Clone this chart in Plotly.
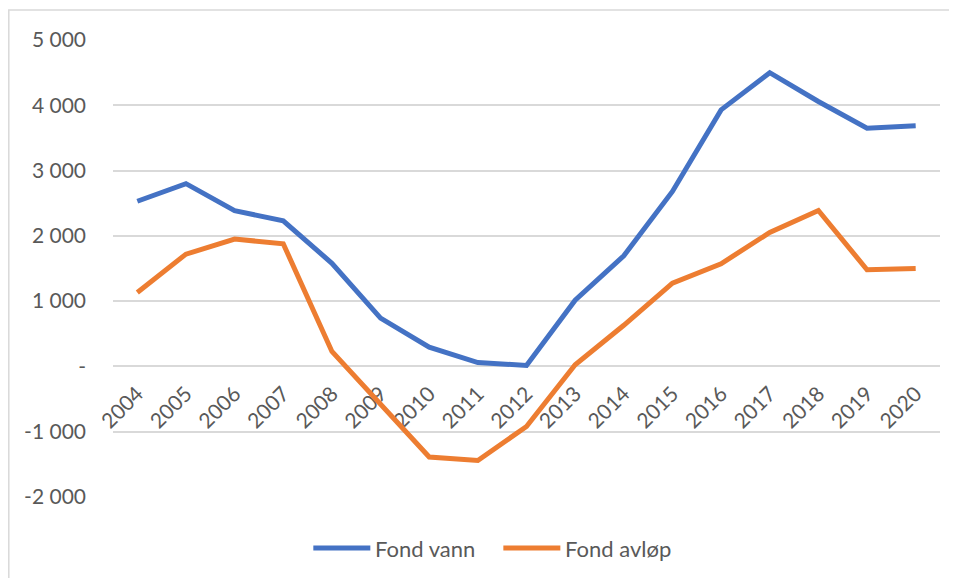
import plotly.graph_objects as go

years = [str(y) for y in range(2004, 2021)]
fond_vann = [2530, 2800, 2385, 2230, 1580, 740, 295, 60, 15, 1015, 1695, 2680, 3930, 4500, 4058, 3650, 3686]
fond_avlop = [1133, 1720, 1951, 1879, 230, -590, -1388, -1440, -919, 25, 630, 1277, 1573, 2052, 2389, 1481, 1501]
series_names = ["Fond vann", "Fond avløp"]
series_colors = ["#4472C4", "#ED7D31"]
y_tickvals = [-2000, -1000, 0, 1000, 2000, 3000, 4000, 5000]
y_ticktext = ["-2 000", "-1 000", "-", "1 000", "2 000", "3 000", "4 000", "5 000"]

OFF = 8  # page body margin
W, H = 957, 578
L, T = 112.7 - OFF, 40 - OFF
R = W - (939.6 - OFF)
B = H - (497 - OFF)
pw, ph = W - L - R, H - T - B

def px_x(px):
    return (px - OFF - L) / pw

def px_y(py):
    return (H - B - (py - OFF)) / ph

FONT = "Lato"
GRAY = "#595959"

fig = go.Figure()
for name, vals, col in zip(series_names, [fond_vann, fond_avlop], series_colors):
    fig.add_trace(go.Scatter(x=years, y=vals, mode="lines", name=name,
                             line=dict(color=col, width=5), showlegend=False))

fig.update_layout(
    width=W, height=H,
    margin=dict(l=L, r=R, t=T, b=B, pad=0),
    paper_bgcolor="white", plot_bgcolor="white",
    font=dict(family=FONT, size=21, color=GRAY),
    showlegend=False,
    xaxis=dict(type="category", range=[-0.5, 16.5], showgrid=False, zeroline=False,
               showline=False, ticks="", tickangle=-45, anchor="free", position=2/7,
               ticklabelstandoff=10,
               tickfont=dict(family=FONT, size=21, color=GRAY), layer="below traces"),
    yaxis=dict(range=[-2000, 5000], tickvals=y_tickvals, ticktext=y_ticktext,
               showgrid=True, gridcolor="#D9D9D9", gridwidth=2,
               zeroline=True, zerolinecolor="#D9D9D9", zerolinewidth=2,
               showline=False, ticks="", ticklabelstandoff=26,
               tickfont=dict(family=FONT, size=21, color=GRAY)),
)

# chart-area border
fig.add_shape(type="rect", xref="paper", yref="paper",
              x0=px_x(8.5), x1=px_x(990), y0=px_y(620), y1=px_y(10),
              line=dict(color="#D9D9D9", width=1.5), fillcolor="rgba(0,0,0,0)", layer="below")

# legend
leg_x = [313, 503]
for i, (name, col) in enumerate(zip(series_names, series_colors)):
    x0 = leg_x[i]
    fig.add_shape(type="line", xref="paper", yref="paper",
                  x0=px_x(x0), x1=px_x(x0 + 57), y0=px_y(548), y1=px_y(548),
                  line=dict(color=col, width=5))
    fig.add_annotation(xref="paper", yref="paper", x=px_x(x0 + 60), y=px_y(548),
                       text=name, showarrow=False, xanchor="left", yanchor="middle",
                       font=dict(family=FONT, size=22, color=GRAY))

fig.write_html("out.html")
